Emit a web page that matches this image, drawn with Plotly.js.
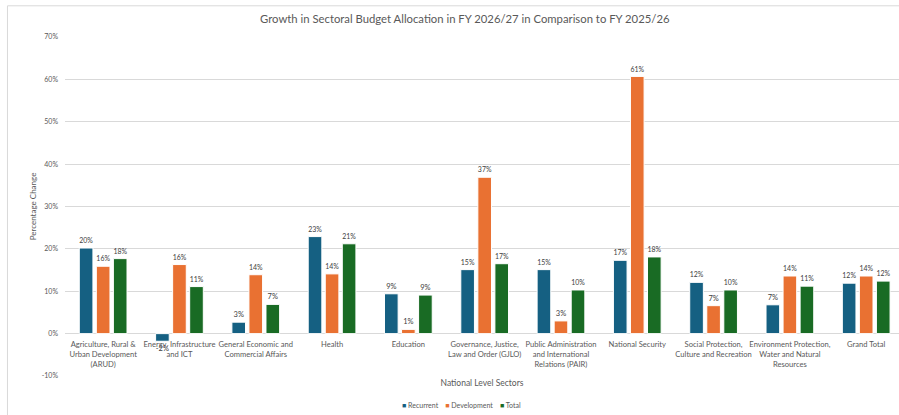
<!DOCTYPE html>
<html>
<head>
<meta charset="utf-8">
<script src="https://cdn.plot.ly/plotly-3.0.1.min.js"></script>
<style>html,body{margin:0;padding:0;background:#fff;}#chart{width:899px;height:415px;}</style>
</head>
<body>
<div id="chart"></div>
<script>
const categories = [
  "Agriculture, Rural &<br>Urban Development<br>(ARUD)",
  "Energy, Infrastructure<br>and ICT",
  "General Economic and<br>Commercial Affairs",
  "Health",
  "Education",
  "Governance, Justice,<br>Law and Order (GJLO)",
  "Public Administration<br>and International<br>Relations (PAIR)",
  "National Security",
  "Social Protection,<br>Culture and Recreation",
  "Environment Protection,<br>Water and Natural<br>Resources",
  "Grand Total"
];
const recurrent   = [20.2, -1.8, 2.7, 22.9, 9.4, 15.1, 15.1, 17.3, 12.1, 6.8, 11.9];
const development = [15.9, 16.3, 13.9, 14.1, 1.0, 36.9, 3.0, 60.7, 6.6, 13.6, 13.6];
const total       = [17.7, 11.1, 6.9, 21.2, 9.1, 16.5, 10.3, 18.1, 10.3, 11.2, 12.4];
const seriesNames = ["Recurrent", "Development", "Total"];
const yTicks = [-10, 0, 10, 20, 30, 40, 50, 60, 70];

const colors = ["#156082", "#E97132", "#196B24"];
const seriesData = [recurrent, development, total];
const fontFam = "Lato, Open Sans, Liberation Sans, Arial, sans-serif";

const traces = seriesData.map((vals, i) => ({
  type: "bar",
  name: seriesNames[i],
  x: categories,
  y: vals,
  marker: {color: colors[i], line: {color: "#ffffff", width: 1}},
  texttemplate: "%{y:.0f}%",
  textposition: "outside",
  cliponaxis: false,
  textfont: {size: 7.5, color: "#404040", family: fontFam},
  hoverinfo: "skip",
  showlegend: false
}));

// legend built as text from series names and colours
const legendText = seriesNames.map((n, i) =>
  '<span style="color:' + colors[i] + '">■</span> ' + n).join('&nbsp;&nbsp;&nbsp;&nbsp;');

const layout = {
  width: 899, height: 415,
  margin: {l: 65, r: 0, t: 37, b: 39},
  paper_bgcolor: "#ffffff", plot_bgcolor: "#ffffff",
  font: {family: fontFam, color: "#595959"},
  title: {text: "Growth in Sectoral Budget Allocation in FY 2026/27 in Comparison to FY 2025/26",
          font: {size: 11.3, color: "#595959", family: fontFam}, x: 0.517, xanchor: "center", y: 0.953, yanchor: "middle"},
  barmode: "group", bargap: 0.33, bargroupgap: 0.2,
  showlegend: false,
  xaxis: {
    type: "category",
    range: [-0.5, 10.43],
    anchor: "free", position: 0.125,
    showgrid: false, showline: false, ticks: "",
    tickfont: {size: 7.6, color: "#595959", family: fontFam},
    ticklabelstandoff: 5,
    tickangle: 0,
    automargin: false,
    title: {text: "National Level Sectors", font: {size: 8.5, color: "#595959", family: fontFam}, standoff: 12}
  },
  yaxis: {
    range: [-10, 70],
    tickvals: yTicks,
    ticktext: yTicks.map(v => v + "%"),
    showgrid: true, gridcolor: "#d9d9d9", gridwidth: 1,
    zeroline: true, zerolinecolor: "#d9d9d9", zerolinewidth: 1,
    showline: false, ticks: "",
    tickfont: {size: 7, color: "#595959", family: fontFam},
    ticklabelstandoff: 6,
    automargin: false,
    title: {text: "Percentage Change", font: {size: 8, color: "#595959", family: fontFam}, standoff: 3}
  },
  annotations: [
    {xref: "paper", yref: "paper", x: 0.475, y: -0.086, xanchor: "center", yanchor: "middle",
     showarrow: false, text: legendText, font: {size: 7, color: "#595959", family: fontFam}}
  ],
  shapes: [
    {type: "line", xref: "paper", yref: "paper", x0: -0.069, x1: 1.1, y0: 1.092, y1: 1.092, line: {color: "#d9d9d9", width: 1}},
    {type: "line", xref: "paper", yref: "paper", x0: -0.069, x1: -0.069, y0: 1.092, y1: -0.2, line: {color: "#d9d9d9", width: 1}}
  ]
};

Plotly.newPlot("chart", traces, layout, {displayModeBar: false, staticPlot: true});
</script>
</body>
</html>
